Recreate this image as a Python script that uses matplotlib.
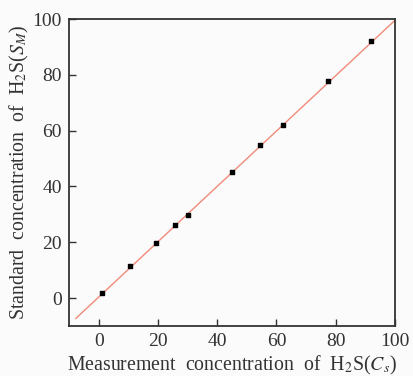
import matplotlib
matplotlib.use("Agg")
import matplotlib.pyplot as plt
import numpy as np

measured = [1.1, 10.7, 19.5, 25.8, 30.1, 45.0, 54.5, 62.1, 77.4, 91.8]
standard = [1.9, 11.5, 19.9, 26.1, 29.8, 45.2, 54.9, 61.9, 77.8, 92.2]
fit_slope = 0.992
fit_intercept = 0.34
fit_x = [-7.7, 100]
ticks = [0, 20, 40, 60, 80, 100]

plt.rcParams['font.family'] = ['Liberation Serif', 'DejaVu Serif']
plt.rcParams['mathtext.fontset'] = 'stix'

fig = plt.figure(figsize=(4.14, 3.76), dpi=100, facecolor='#fbfbfb')
ax = fig.add_axes([69/414, 1-326/376, (395-69)/414, (326-19)/376])
ax.set_facecolor('#fbfbfb')

fx = np.array(fit_x)
ax.plot(fx, fit_slope*fx + fit_intercept, color='#f08a7a', lw=1.0, zorder=2)
ax.scatter(measured, standard, marker='s', s=12, color='black', zorder=3)

ax.set_xlim(-10, 100)
ax.set_ylim(-10, 100)
ax.set_xticks(ticks)
ax.set_yticks(ticks)
ax.tick_params(direction='in', length=5, width=1, labelsize=14, colors='#333333', labelcolor='#333333', pad=5)
for s in ax.spines.values():
    s.set_linewidth(1.3)
    s.set_color('#333333')

ax.set_xlabel(r'Measurement  concentration  of  H$_{2}$S($\mathit{C}_{\mathit{s}}$)',
              fontsize=14.3, color='#333333', labelpad=3)
ax.set_ylabel(r'Standard  concentration  of  H$_{2}$S($\mathit{S}_{\mathit{M}}$)', fontsize=14.3, color='#333333', labelpad=1)

fig.savefig('out.png', dpi=100, facecolor=fig.get_facecolor())
